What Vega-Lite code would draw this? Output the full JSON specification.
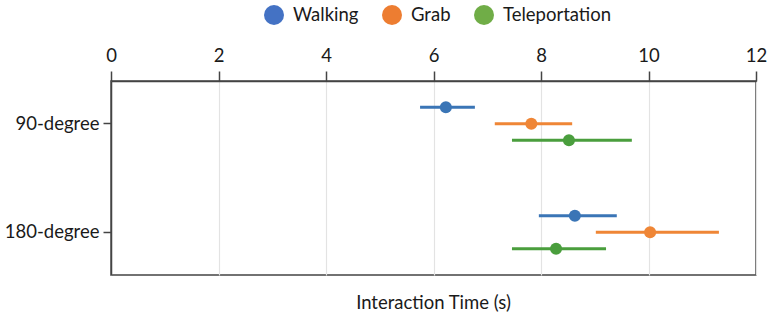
{
  "$schema": "https://vega.github.io/schema/vega-lite/v6.json",
  "autosize": "none",
  "padding": {"left": 111, "top": 81, "right": 16, "bottom": 43},
  "width": 645,
  "height": 194,
  "title": {"text": "Interaction Time (s)", "orient": "bottom", "anchor": "middle", "offset": 19, "font": "Lato", "fontSize": 18.5, "fontWeight": "normal", "color": "#1a1a1a"},
  "config": {
    "view": {"stroke": "#444444", "strokeWidth": 1.5},
    "font": "Lato"
  },
  "data": {
    "values": [
      {"angle": "90-degree", "method": "Walking", "mean": 6.23, "lo": 5.75, "hi": 6.77},
      {"angle": "90-degree", "method": "Grab", "mean": 7.82, "lo": 7.14, "hi": 8.58},
      {"angle": "90-degree", "method": "Teleportation", "mean": 8.52, "lo": 7.46, "hi": 9.69},
      {"angle": "180-degree", "method": "Walking", "mean": 8.63, "lo": 7.96, "hi": 9.41},
      {"angle": "180-degree", "method": "Grab", "mean": 10.03, "lo": 9.02, "hi": 11.31},
      {"angle": "180-degree", "method": "Teleportation", "mean": 8.28, "lo": 7.46, "hi": 9.21}
    ]
  },
  "encoding": {
    "y": {
      "field": "angle", "type": "nominal", "sort": ["90-degree", "180-degree"],
      "scale": {"paddingInner": 0.543, "paddingOuter": 0.165},
      "axis": {"title": null, "labelFont": "Lato", "labelFontSize": 18.5, "labelColor": "#1a1a1a", "tickSize": 8, "tickColor": "#444444", "tickWidth": 1.5, "domainColor": "#444444", "domainWidth": 1.5, "labelPadding": 4, "grid": false}
    },
    "yOffset": {
      "field": "method", "type": "nominal", "sort": ["Walking", "Grab", "Teleportation"],
      "scale": {"paddingInner": 0, "paddingOuter": 0}
    }
  },
  "layer": [
    {
      "mark": {"type": "point", "filled": true, "size": 1, "opacity": 1},
      "encoding": {
        "x": {
          "field": "mean", "type": "quantitative",
          "scale": {"domain": [0, 12], "nice": false},
          "axis": {"orient": "top", "title": null, "values": [0, 2, 4, 6, 8, 10, 12], "format": "d", "labelFont": "Lato", "labelFontSize": 18.5, "labelColor": "#1a1a1a", "labelPadding": 6, "tickSize": 10, "tickColor": "#444444", "tickWidth": 1.5, "domainColor": "#444444", "domainWidth": 1.5, "grid": true, "gridColor": "#e3e3e3", "gridWidth": 1.2, "labelFlush": false}
        },
        "color": {
          "field": "method", "type": "nominal",
          "scale": {"domain": ["Walking", "Grab", "Teleportation"], "range": ["#4472C4", "#ED7D31", "#70AD47"]},
          "legend": {
            "orient": "none", "legendX": 153, "legendY": -76, "direction": "horizontal",
            "title": null, "symbolType": "circle", "symbolSize": 400, "symbolStrokeWidth": 0, "symbolOpacity": 1,
            "labelFont": "Lato", "labelFontSize": 18.5, "labelColor": "#1a1a1a", "labelOffset": 9, "columnPadding": 23
          }
        }
      }
    },
    {
      "layer": [
        {
          "mark": {"type": "rule", "strokeWidth": 3},
          "encoding": {
            "x": {"field": "lo", "type": "quantitative"},
            "x2": {"field": "hi"}
          }
        },
        {
          "mark": {"type": "point", "filled": true, "size": 145, "opacity": 1},
          "encoding": {
            "x": {"field": "mean", "type": "quantitative"}
          }
        }
      ],
      "encoding": {
        "color": {
          "field": "method", "type": "nominal",
          "scale": {"domain": ["Walking", "Grab", "Teleportation"], "range": ["#3a75b6", "#ef8636", "#4a9e3d"]},
          "legend": null
        }
      }
    }
  ],
  "resolve": {"scale": {"color": "independent"}, "legend": {"color": "independent"}}
}
